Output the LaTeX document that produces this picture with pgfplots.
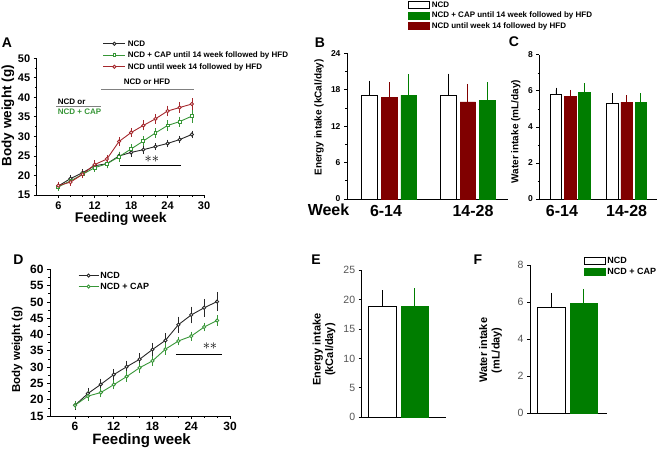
\documentclass[border=0pt]{standalone}
\usepackage{fontspec}
\setmainfont{Liberation Sans}
\usepackage{pgfplots}
\pgfplotsset{compat=1.18}

\definecolor{lnred}{RGB}{165,40,45}
\definecolor{lngreen}{RGB}{55,150,55}
\definecolor{lnblack}{RGB}{40,40,40}
\definecolor{barred}{RGB}{128,0,0}
\definecolor{bargreen}{RGB}{0,125,0}
\definecolor{ticgray}{RGB}{85,85,85}

\newcommand{\fs}[1]{\fontsize{#1}{#1}\selectfont}

\pgfplotsset{
  base/.style={scale only axis, axis lines=left, axis line style={-, line width=0.9pt},
    tick align=outside, tick pos=left, enlargelimits=false, clip=false,
    /pgf/number format/assume math mode=true,
    major tick length=3pt, minor tick length=1.8pt,
    every tick/.style={line width=0.8pt, black},
    every minor tick/.style={line width=0.6pt, black}},
  lineerr/.style={error bars/.cd, y dir=both, y explicit,
    error bar style={line width=0.7pt}, error mark options={line width=0.7pt, mark size=1.5pt}},
  barerr/.style={error bars/.cd, y dir=plus, y explicit,
    error bar style={line width=0.9pt, #1}, error mark options={line width=0.9pt, mark size=2.2pt, #1}},
  linelegend/.style={legend image code/.code={\draw[##1, mark repeat=2, mark phase=2] plot coordinates {(0pt,0pt) (#1/2,0pt) (#1,0pt)};}},
  boxlegend/.style={legend image code/.code={\draw[##1, line width=0.9pt] (0pt,-3.6pt) rectangle (#1,3.6pt);}},
}

\begin{document}
\begin{tikzpicture}[x=1pt,y=1pt]

% ---------------- A ----------------
\begin{axis}[base, at={(36.7pt,253pt)}, anchor=south west, width=167.3pt, height=136.7pt,
  xmin=2.44, xmax=30, ymin=15, ymax=50,
  xtick={6,12,...,30}, ytick={15,20,...,50}, minor x tick num=2, minor y tick num=1,
  ticklabel style={font=\bfseries\fs{11}},
  xlabel={Feeding week}, ylabel={Body weight (g)},
  xlabel style={font=\bfseries\fs{14}, at={(axis description cs:0.502,-0.172)}, anchor=center},
  ylabel style={font=\bfseries\fs{13.5}, at={(axis description cs:-0.172,0.58)}, anchor=center},
  linelegend=22pt, legend cell align=left,
  legend style={at={(axis description cs:0.396,1.148)}, anchor=north west, draw=none, fill=none,
    font=\bfseries\fs{8}, inner sep=0pt, outer sep=0pt, row sep=0pt,
    nodes={text height=6pt, text depth=1.5pt, inner sep=2pt}},
]
\addplot[lnblack, line width=0.9pt, mark=*, mark size=1.6pt, mark options={fill=white}, lineerr] coordinates {
 (6,17.3) +- (0,0.7) (8,19.2) +- (0,0.6) (10,20.7) +- (0,0.6) (12,22.5) +- (0,0.7)
 (14,23.0) +- (0,0.8) (16,25.0) +- (0,0.7) (18,25.9) +- (0,0.7) (20,26.6) +- (0,0.6)
 (22,27.4) +- (0,0.5) (24,28.2) +- (0,0.6) (26,29.2) +- (0,0.6) (28,30.5) +- (0,0.6)};
\addplot[lngreen, line width=0.9pt, mark=square*, mark size=1.4pt, mark options={fill=white}, lineerr] coordinates {
 (6,17.1) +- (0,0.6) (8,18.6) +- (0,0.6) (10,20.3) +- (0,0.6) (12,22.0) +- (0,0.7)
 (14,23.0) +- (0,0.8) (16,24.8) +- (0,0.9) (18,26.8) +- (0,0.8) (20,28.8) +- (0,0.9)
 (22,30.9) +- (0,0.8) (24,32.8) +- (0,1.0) (26,33.8) +- (0,0.9) (28,35.2) +- (0,1.3)};
\addplot[lnred, line width=0.9pt, mark=*, mark size=1.6pt, mark options={fill=white}, lineerr] coordinates {
 (6,17.4) +- (0,0.6) (8,18.3) +- (0,0.6) (10,20.3) +- (0,0.6) (12,22.8) +- (0,0.7)
 (14,24.2) +- (0,0.7) (16,28.7) +- (0,0.8) (18,31.0) +- (0,0.8) (20,32.8) +- (0,0.9)
 (22,34.5) +- (0,0.9) (24,36.5) +- (0,1.0) (26,37.4) +- (0,0.9) (28,38.3) +- (0,1.1)};
\legend{NCD, NCD + CAP until 14 week followed by HFD, NCD until week 14 followed by HFD}
\draw[line width=1.6pt] (axis cs:16.2,22.6) -- (axis cs:26.2,22.6);
\node at (axis cs:21.4,24.1) {\fs{14}$\ast\ast$};
\node[font=\bfseries\fs{8}] at (axis cs:20.6,43.9) {NCD or HFD};
\draw[gray, line width=0.6pt] (axis cs:13.1,42.1) -- (axis cs:28.4,42.1);
\node[font=\bfseries\fs{8}, anchor=west, inner sep=0pt] at (axis cs:5.9,38.9) {NCD or};
\draw[gray, line width=0.6pt] (axis cs:5.7,37.6) -- (axis cs:13.1,37.6);
\node[font=\bfseries\fs{8}, anchor=west, inner sep=0pt, text=lngreen] at (axis cs:5.9,36.2) {NCD + CAP};
\end{axis}

% ---------------- B ----------------
\begin{axis}[base, at={(347pt,249pt)}, anchor=south west, width=161pt, height=145.7pt,
  xmin=0.464, xmax=2.51, ymin=0, ymax=24,
  ytick={0,6,...,24}, minor y tick num=1,
  xtick={0.96,2.065}, xticklabels={6-14,14-28}, xtick style={draw=none},
  x tick label style={font=\bfseries\fs{16}}, y tick label style={font=\bfseries\fs{8.5}},
  ylabel={Energy intake (kCal/day)},
  ylabel style={font=\bfseries\fs{10}, at={(axis description cs:-0.174,0.56)}, anchor=center},
  boxlegend=21.6pt, legend cell align=left,
  legend style={at={(axis description cs:0.377,1.366)}, anchor=north west, draw=none, fill=none,
    font=\bfseries\fs{8}, inner sep=0pt, outer sep=0pt, row sep=0pt,
    nodes={text height=5.8pt, text depth=1.5pt, inner sep=1.6pt}},
]
\addplot[ybar, bar width=15.5pt, bar shift=0pt, fill=white, draw=black, line width=1pt, barerr=black]
  coordinates {(0.752,17.0) +- (0,2.15) (1.752,17.1) +- (0,3.2)};
\addplot[ybar, bar width=15.5pt, bar shift=0pt, fill=bargreen, draw=bargreen, line width=0.6pt, barerr=bargreen]
  coordinates {(1.248,17.1) +- (0,3.1) (2.248,16.2) +- (0,2.7)};
\addplot[ybar, bar width=15.5pt, bar shift=0pt, fill=barred, draw=barred, line width=0.6pt, barerr=barred]
  coordinates {(1,16.8) +- (0,2.1) (2,16.0) +- (0,2.6)};
\legend{NCD, NCD + CAP until 14 week followed by HFD, NCD until week 14 followed by HFD}
\end{axis}

% ---------------- C ----------------
\begin{axis}[base, at={(539.3pt,249pt)}, anchor=south west, width=117.4pt, height=144.2pt,
  xmin=0.454, xmax=2.53, ymin=0, ymax=8,
  ytick={0,2,...,8}, minor y tick num=1,
  xtick={0.855,1.998}, xticklabels={6-14,14-28}, xtick style={draw=none},
  x tick label style={font=\bfseries\fs{16}}, y tick label style={font=\bfseries\fs{8.5}},
  ylabel={Water intake (mL/day)},
  ylabel style={font=\bfseries\fs{10}, at={(axis description cs:-0.2,0.467)}, anchor=center},
]
\addplot[ybar, bar width=11.5pt, bar shift=0pt, fill=white, draw=black, line width=1pt, barerr=black]
  coordinates {(0.749,5.81) +- (0,0.25) (1.749,5.31) +- (0,0.43)};
\addplot[ybar, bar width=11.5pt, bar shift=0pt, fill=barred, draw=barred, line width=0.6pt, barerr=barred]
  coordinates {(1,5.69) +- (0,0.24) (2,5.37) +- (0,0.26)};
\addplot[ybar, bar width=11.5pt, bar shift=0pt, fill=bargreen, draw=bargreen, line width=0.6pt, barerr=bargreen]
  coordinates {(1.251,5.91) +- (0,0.39) (2.251,5.35) +- (0,0.39)};
\end{axis}

% ---------------- D ----------------
\begin{axis}[base, at={(50pt,32pt)}, anchor=south west, width=180pt, height=146.7pt,
  xmin=2.13, xmax=30, ymin=15, ymax=60,
  xtick={6,12,...,30}, ytick={15,20,...,60}, minor x tick num=2, minor y tick num=1,
  ticklabel style={font=\bfseries\fs{12}},
  xlabel={Feeding week}, ylabel={Body weight (g)},
  xlabel style={font=\bfseries\fs{15}, at={(axis description cs:0.509,-0.168)}, anchor=center},
  ylabel style={font=\bfseries\fs{11.5}, at={(axis description cs:-0.183,0.452)}, anchor=center},
  linelegend=20pt, legend cell align=left,
  legend style={at={(axis description cs:0.156,0.995)}, anchor=north west, draw=none, fill=none,
    font=\bfseries\fs{9}, inner sep=0pt, outer sep=0pt, row sep=0pt,
    nodes={text height=6.5pt, text depth=1.5pt, inner sep=1.5pt}},
]
\addplot[lnblack, line width=0.9pt, mark=*, mark size=1.6pt, mark options={fill=white}, lineerr] coordinates {
 (6,18.3) +- (0,0.9) (8,21.9) +- (0,1.3) (10,24.7) +- (0,1.3) (12,27.7) +- (0,1.3)
 (14,30.1) +- (0,1.4) (16,32.4) +- (0,1.4) (18,35.4) +- (0,1.6) (20,38.2) +- (0,1.7)
 (22,43.0) +- (0,2.0) (24,46.0) +- (0,2.1) (26,48.2) +- (0,2.3) (28,50.1) +- (0,2.5)};
\addplot[lngreen, line width=0.9pt, mark=*, mark size=1.6pt, mark options={fill=white}, lineerr] coordinates {
 (6,18.3) +- (0,0.8) (8,21.1) +- (0,1.0) (10,22.2) +- (0,1.0) (12,24.6) +- (0,1.0)
 (14,27.1) +- (0,1.1) (16,29.8) +- (0,1.0) (18,31.9) +- (0,1.1) (20,35.5) +- (0,1.3)
 (22,38.0) +- (0,0.9) (24,39.5) +- (0,0.9) (26,42.3) +- (0,0.9) (28,44.3) +- (0,1.2)};
\legend{NCD, NCD + CAP}
\draw[line width=1.6pt] (axis cs:21.6,33.9) -- (axis cs:28.8,33.9);
\node at (axis cs:26.9,36.4) {\fs{14}$\ast\ast$};
\end{axis}

% ---------------- E ----------------
\begin{axis}[base, at={(361.7pt,30.7pt)}, anchor=south west, width=84.3pt, height=147.3pt,
  xmin=0.354, xmax=2.97, ymin=0, ymax=25,
  ytick={0,5,...,25}, xtick=\empty,
  y tick label style={font=\fs{10.5}, text=ticgray},
  ylabel={Energy intake\\(kCal/day)},
  ylabel style={font=\bfseries\fontsize{11}{12.5}\selectfont, align=center, at={(axis description cs:-0.447,0.46)}, anchor=center},
]
\addplot[ybar, bar width=28pt, bar shift=0pt, fill=white, draw=black, line width=1.1pt, barerr=black]
  coordinates {(1,18.8) +- (0,2.4)};
\addplot[ybar, bar width=27.5pt, bar shift=0pt, fill=bargreen, draw=bargreen, line width=0.6pt, barerr=bargreen]
  coordinates {(2,18.8) +- (0,2.7)};
\end{axis}

% ---------------- F ----------------
\begin{axis}[base, at={(530pt,34.7pt)}, anchor=south west, width=76.7pt, height=148.3pt,
  xmin=0.334, xmax=2.71, ymin=0, ymax=8,
  ytick={0,2,...,8}, xtick=\empty,
  y tick label style={font=\fs{10.5}, text=ticgray},
  ylabel={Water intake\\(mL/day)},
  ylabel style={font=\bfseries\fontsize{11}{12.5}\selectfont, align=center, at={(axis description cs:-0.515,0.425)}, anchor=center},
  boxlegend=21pt, legend cell align=left,
  legend style={at={(axis description cs:0.704,1.067)}, anchor=north west, draw=none, fill=none,
    font=\bfseries\fs{9}, inner sep=0pt, outer sep=0pt, row sep=0pt,
    nodes={text height=6.5pt, text depth=1.5pt, inner sep=1.5pt}},
]
\addplot[ybar, bar width=28pt, bar shift=0pt, fill=white, draw=black, line width=1.1pt, barerr=black]
  coordinates {(1,5.7) +- (0,0.68)};
\addplot[ybar, bar width=27.5pt, bar shift=0pt, fill=bargreen, draw=bargreen, line width=0.6pt, barerr=bargreen]
  coordinates {(2,5.95) +- (0,0.65)};
\legend{NCD, NCD + CAP}
\end{axis}

% panel letters and extra labels
\node[font=\bfseries\fs{14}] at (7,405.3) {A};
\node[font=\bfseries\fs{14}] at (320,405.3) {B};
\node[font=\bfseries\fs{14}] at (514,406) {C};
\node[font=\bfseries\fs{14}] at (18.5,188.7) {D};
\node[font=\bfseries\fs{14}] at (316,188) {E};
\node[font=\bfseries\fs{14}] at (478,188) {F};
\node[font=\bfseries\fs{16}] at (328.5,238) {Week};

\pgfresetboundingbox
\path (0,0) rectangle (658,448);
\end{tikzpicture}
\end{document}
